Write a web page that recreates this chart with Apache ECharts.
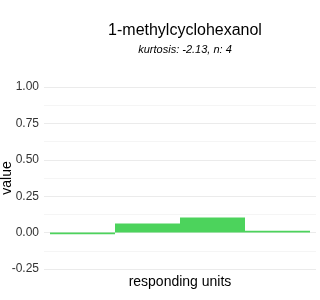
<!DOCTYPE html>
<html><head><meta charset="utf-8">
<script src="https://cdn.jsdelivr.net/npm/echarts@6/dist/echarts.min.js"></script>
<style>html,body{margin:0;padding:0;background:#fff}#c{width:320px;height:300px}</style>
</head><body><div id="c"></div>
<script>
var categories = ['1', '2', '3', '4'];
var values = [-0.012, 0.062, 0.103, 0.012];
var yTicks = [-0.25, 0, 0.25, 0.5, 0.75, 1.0];
var titleText = '1-methylcyclohexanol';
var subtitleText = 'kurtosis: -2.13, n: 4';

var chart = echarts.init(document.getElementById('c'), null, {renderer: 'canvas'});
var font = 'Liberation Sans, Arial, sans-serif';
chart.setOption({
  animation: false,
  title: {
    text: titleText, subtext: subtitleText, left: 180, top: 18, textAlign: 'center', itemGap: 5,
    textStyle: {fontFamily: font, fontSize: 16, fontWeight: 'normal', color: '#000'},
    subtextStyle: {fontFamily: font, fontSize: 11, fontStyle: 'italic', color: '#000'}
  },
  grid: [
    {left: 44, right: 4, top: 87, height: 182, outerBoundsMode: 'none', containLabel: false},
    {left: 50, right: 10, top: 87, height: 182, outerBoundsMode: 'none', containLabel: false}
  ],
  xAxis: [
    {gridIndex: 0, type: 'category', data: categories, axisLine: {show: false}, axisTick: {show: false},
     axisLabel: {show: false}, name: 'responding units', nameLocation: 'middle', nameGap: 6,
     nameTextStyle: {fontFamily: font, fontSize: 14, color: '#000'}},
    {gridIndex: 1, type: 'category', data: categories, show: false}
  ],
  yAxis: [
    {gridIndex: 0, type: 'value', min: yTicks[0], max: yTicks[yTicks.length - 1], interval: 0.25,
     axisLine: {show: false}, axisTick: {show: false},
     splitLine: {show: true, lineStyle: {color: '#ebebeb', width: 1}},
     minorTick: {show: false, splitNumber: 2},
     minorSplitLine: {show: true, lineStyle: {color: '#f5f5f5', width: 1}},
     axisLabel: {fontFamily: font, fontSize: 12, color: '#333', margin: 5,
       formatter: function (v) { return v.toFixed(2); }},
     name: 'value', nameLocation: 'middle', nameGap: 30, nameRotate: 90, nameMoveOverlap: false,
     nameTextStyle: {fontFamily: font, fontSize: 14, color: '#000'}},
    {gridIndex: 1, type: 'value', min: yTicks[0], max: yTicks[yTicks.length - 1], show: false}
  ],
  series: [{
    type: 'bar', xAxisIndex: 1, yAxisIndex: 1, data: values, barCategoryGap: '0%',
    itemStyle: {color: '#4cd35c'}
  }]
});
</script></body></html>
